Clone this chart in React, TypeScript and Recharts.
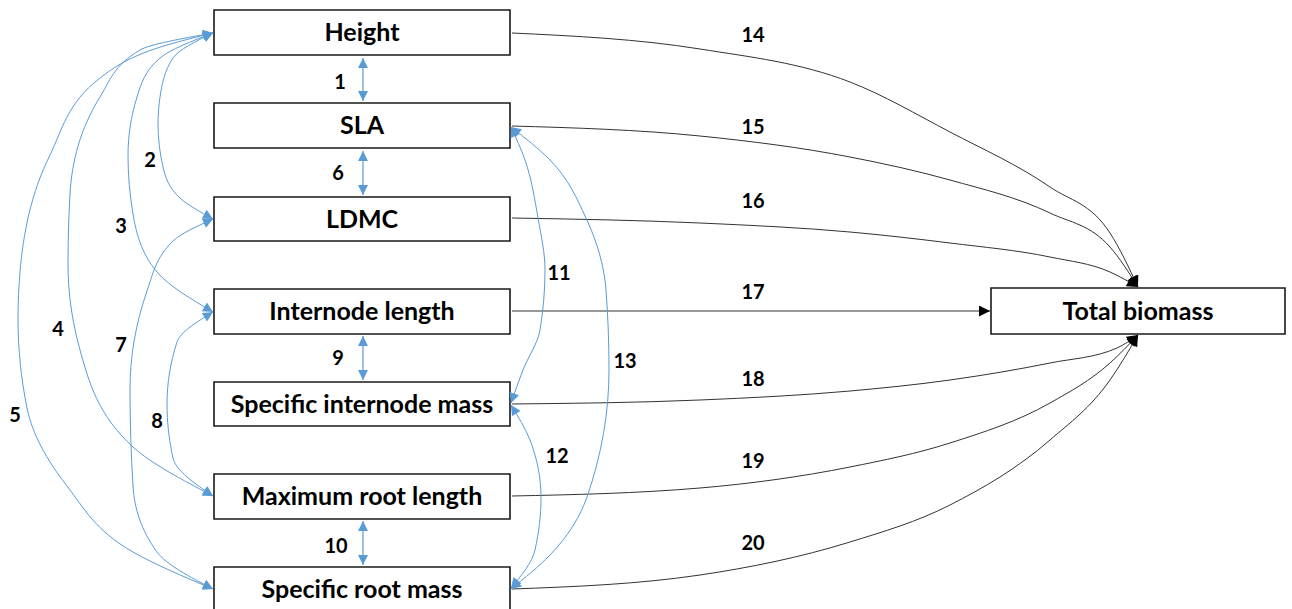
import React from 'react';
import { ComposedChart, XAxis, YAxis, Line, Scatter, ReferenceArea } from 'recharts';

type P = { x: number; y: number };

// Diagram nodes (box bounds in diagram units)
const nodeNames = ['Height', 'SLA', 'LDMC', 'Internode length', 'Specific internode mass', 'Maximum root length', 'Specific root mass', 'Total biomass'];
const nodeX1 = [214, 214, 214, 214, 214, 214, 214, 991];
const nodeX2 = [510, 510, 510, 510, 510, 510, 510, 1285];
const nodeY1 = [10, 103, 197, 289, 382, 474, 567, 288];
const nodeY2 = [55, 148, 241, 334, 426, 519, 612, 334];

// Edge labels
const edgeLabels = [
  { x: 340, y: 81, label: '1' },
  { x: 150, y: 159, label: '2' },
  { x: 121, y: 225, label: '3' },
  { x: 58, y: 328, label: '4' },
  { x: 15, y: 414, label: '5' },
  { x: 338, y: 172, label: '6' },
  { x: 121, y: 344, label: '7' },
  { x: 157, y: 420, label: '8' },
  { x: 338, y: 357, label: '9' },
  { x: 336, y: 545, label: '10' },
  { x: 559, y: 272, label: '11' },
  { x: 557, y: 455, label: '12' },
  { x: 625, y: 360, label: '13' },
  { x: 753, y: 34, label: '14' },
  { x: 753, y: 126, label: '15' },
  { x: 753, y: 200, label: '16' },
  { x: 753, y: 291, label: '17' },
  { x: 753, y: 378, label: '18' },
  { x: 753, y: 460, label: '19' },
  { x: 753, y: 542, label: '20' },
];

// Correlation paths (blue, double headed)
const e1: P[] = [{ x: 363, y: 58 }, { x: 363, y: 101 }];
const e6: P[] = [{ x: 363, y: 151 }, { x: 363, y: 195 }];
const e9: P[] = [{ x: 363, y: 336 }, { x: 363, y: 380 }];
const e10: P[] = [{ x: 363, y: 521 }, { x: 363, y: 565 }];
const e2: P[] = [{ x: 213, y: 33 }, { x: 173, y: 58 }, { x: 160, y: 97 }, { x: 158, y: 124 }, { x: 163, y: 167 }, { x: 180, y: 198 }, { x: 213, y: 219 }];
const e3: P[] = [{ x: 213, y: 33 }, { x: 160, y: 58 }, { x: 137, y: 97 }, { x: 128, y: 155 }, { x: 133, y: 214 }, { x: 157, y: 272 }, { x: 213, y: 312 }];
const e4: P[] = [{ x: 213, y: 33 }, { x: 140, y: 50 }, { x: 100, y: 97 }, { x: 70, y: 194 }, { x: 68, y: 264 }, { x: 80, y: 350 }, { x: 133, y: 447 }, { x: 213, y: 496 }];
const e5: P[] = [{ x: 213, y: 33 }, { x: 167, y: 45 }, { x: 100, y: 78 }, { x: 50, y: 155 }, { x: 20, y: 272 }, { x: 18, y: 319 }, { x: 27, y: 408 }, { x: 67, y: 486 }, { x: 133, y: 552 }, { x: 213, y: 589 }];
const e7: P[] = [{ x: 213, y: 219 }, { x: 173, y: 241 }, { x: 147, y: 291 }, { x: 130, y: 389 }, { x: 133, y: 486 }, { x: 157, y: 552 }, { x: 213, y: 589 }];
const e8: P[] = [{ x: 213, y: 312 }, { x: 177, y: 342 }, { x: 167, y: 404 }, { x: 173, y: 458 }, { x: 213, y: 496 }];
const e11: P[] = [{ x: 511, y: 127 }, { x: 525, y: 160 }, { x: 538, y: 218 }, { x: 545, y: 270 }, { x: 540, y: 330 }, { x: 523, y: 370 }, { x: 511, y: 403 }];
const e12: P[] = [{ x: 511, y: 405 }, { x: 530, y: 440 }, { x: 541, y: 497 }, { x: 535, y: 550 }, { x: 511, y: 588 }];
const e13: P[] = [{ x: 511, y: 127 }, { x: 550, y: 160 }, { x: 586, y: 218 }, { x: 606, y: 290 }, { x: 609, y: 370 }, { x: 587, y: 497 }, { x: 550, y: 555 }, { x: 511, y: 589 }];

// Effects on total biomass (black)
const e14: P[] = [{ x: 512, y: 33 }, { x: 700, y: 49 }, { x: 850, y: 82 }, { x: 950, y: 132 }, { x: 1050, y: 187 }, { x: 1110, y: 233 }, { x: 1138, y: 287 }];
const e15: P[] = [{ x: 512, y: 126 }, { x: 700, y: 136 }, { x: 850, y: 157 }, { x: 950, y: 180 }, { x: 1050, y: 213 }, { x: 1110, y: 247 }, { x: 1138, y: 287 }];
const e16: P[] = [{ x: 512, y: 218 }, { x: 700, y: 223 }, { x: 850, y: 232 }, { x: 950, y: 243 }, { x: 1050, y: 257 }, { x: 1110, y: 272 }, { x: 1138, y: 287 }];
const e17: P[] = [{ x: 512, y: 311 }, { x: 990, y: 311 }];
const e18: P[] = [{ x: 512, y: 404 }, { x: 700, y: 400 }, { x: 850, y: 391 }, { x: 950, y: 380 }, { x: 1050, y: 363 }, { x: 1117, y: 348 }, { x: 1138, y: 335 }];
const e19: P[] = [{ x: 512, y: 496 }, { x: 700, y: 488 }, { x: 850, y: 467 }, { x: 950, y: 443 }, { x: 1050, y: 403 }, { x: 1110, y: 363 }, { x: 1138, y: 335 }];
const e20: P[] = [{ x: 512, y: 589 }, { x: 700, y: 575 }, { x: 850, y: 542 }, { x: 950, y: 505 }, { x: 1050, y: 440 }, { x: 1110, y: 380 }, { x: 1138, y: 335 }];

const blueStraight = [e1, e6, e9, e10];
const blueCurves = [e2, e3, e4, e5, e7, e8, e11, e12, e13];
const blackEdges = [e14, e15, e16, e17, e18, e19, e20];

const BLUE = '#5B9BD5';
const FONT = 'Lato, "Open Sans", sans-serif';

const LabelShape = (props: any) => (
  <text
    x={props.cx}
    y={props.cy}
    textAnchor="middle"
    dominantBaseline="central"
    fontFamily={FONT}
    fontWeight={700}
    fontSize={20}
    fill="#000"
  >
    {props.payload.label}
  </text>
);

export default function App() {
  return (
    <div style={{ position: 'absolute', left: 0, top: 0, width: 1292, height: 609, background: '#fff' }}>
      <svg width={0} height={0} style={{ position: 'absolute' }}>
        <defs>
          <marker id="blueArrow" viewBox="0 0 10 10" refX={10} refY={5} markerWidth={11} markerHeight={10} markerUnits="userSpaceOnUse" orient="auto-start-reverse">
            <path d="M0,0 L10,5 L0,10 z" fill={BLUE} />
          </marker>
          <marker id="blackArrow" viewBox="0 0 10 10" refX={10} refY={5} markerWidth={12} markerHeight={11} markerUnits="userSpaceOnUse" orient="auto-start-reverse">
            <path d="M0,0 L10,5 L0,10 z" fill="#000" />
          </marker>
        </defs>
      </svg>
      <ComposedChart width={1292} height={609} margin={{ top: 0, right: 0, bottom: 0, left: 0 }}>
        <XAxis type="number" dataKey="x" domain={[0, 1292]} hide allowDataOverflow />
        <YAxis type="number" dataKey="y" domain={[0, 609]} reversed hide allowDataOverflow />
        {nodeNames.map((name, i) => (
          <ReferenceArea
            key={name}
            x1={nodeX1[i]}
            x2={nodeX2[i]}
            y1={nodeY1[i]}
            y2={nodeY2[i]}
            ifOverflow="visible"
            fill="#fff"
            fillOpacity={1}
            stroke="#1a1a1a"
            strokeWidth={1.6}
            label={{ value: name, position: 'center', fill: '#000', fontSize: 25, fontWeight: 700, fontFamily: FONT }}
          />
        ))}
        {blackEdges.map((d, i) => (
          <Line
            key={'k' + i}
            data={d}
            dataKey="y"
            type="monotone"
            stroke="#333"
            strokeWidth={1}
            dot={false}
            activeDot={false}
            markerEnd="url(#blackArrow)"
            isAnimationActive={false}
          />
        ))}
        {blueStraight.map((d, i) => (
          <Line
            key={'s' + i}
            data={d}
            dataKey="y"
            type="linear"
            stroke={BLUE}
            strokeWidth={1.2}
            dot={false}
            activeDot={false}
            markerStart="url(#blueArrow)"
            markerEnd="url(#blueArrow)"
            isAnimationActive={false}
          />
        ))}
        {blueCurves.map((d, i) => (
          <Line
            key={'b' + i}
            data={d}
            dataKey="y"
            type="monotoneY"
            stroke={BLUE}
            strokeWidth={1}
            dot={false}
            activeDot={false}
            markerStart="url(#blueArrow)"
            markerEnd="url(#blueArrow)"
            isAnimationActive={false}
          />
        ))}
        <Scatter data={edgeLabels} dataKey="y" shape={LabelShape} isAnimationActive={false} />
      </ComposedChart>
    </div>
  );
}
